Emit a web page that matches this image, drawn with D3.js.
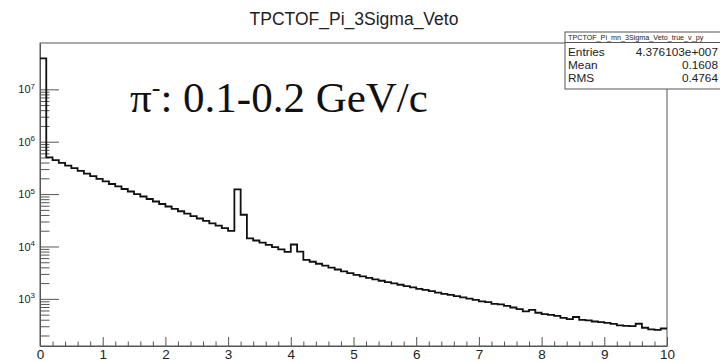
<!DOCTYPE html>
<html>
<head>
<meta charset="utf-8">
<script src="https://cdn.jsdelivr.net/npm/d3@7"></script>
<style>
    body { margin: 0; background: white; }
    svg { display: block; }
</style>
</head>
<body>
<svg id="histo"></svg>
<script>
// Dimensions
const width = 720;
const height = 362;

const margin = {
    top: 43,
    right: 53,
    bottom: 16,
    left: 40
};

// Data: 100 bins of width 0.1 from 0 to 10
const binWidth = 0.1;
const counts = [
    3.9e7, 5.04e5, 4.47e5, 3.96e5, 3.51e5, 3.12e5, 2.77e5, 2.46e5, 2.20e5, 1.96e5,
    1.75e5, 1.56e5, 1.40e5, 1.25e5, 1.12e5, 1.00e5, 9.0e4, 8.06e4, 7.22e4, 6.47e4,
    5.80e4, 5.22e4, 4.70e4, 4.23e4, 3.80e4, 3.42e4, 3.08e4, 2.77e4, 2.51e4, 2.25e4,
    1.98e4, 1.23e5, 4.03e4, 1.43e4, 1.30e4, 1.18e4, 1.07e4, 9.70e3, 8.80e3, 7.92e3,
    1.09e4, 8.0e3, 5.57e3, 5.11e3, 4.68e3, 4.30e3, 3.96e3, 3.64e3, 3.36e3, 3.09e3,
    2.86e3, 2.68e3, 2.51e3, 2.36e3, 2.22e3, 2.08e3, 1.97e3, 1.86e3, 1.75e3, 1.66e3,
    1.55e3, 1.48e3, 1.40e3, 1.32e3, 1.25e3, 1.19e3, 1.13e3, 1.07e3, 1.01e3, 961,
    892, 865, 806, 782, 732, 685, 636, 575, 619, 543,
    511, 493, 472, 432, 410, 451, 399, 387, 370, 359,
    347, 332, 311, 304, 301, 335, 281, 261, 257, 272
];

const xTicks = [0, 1, 2, 3, 4, 5, 6, 7, 8, 9, 10];
const yDecades = [3, 4, 5, 6, 7];

const title = "TPCTOF_Pi_3Sigma_Veto";
const statsName = "TPCTOF_Pi_mn_3Sigma_Veto_true_v_py";
const statsRows = [
    ["Entries", "4.376103e+007"],
    ["Mean", "0.1608"],
    ["RMS", "0.4764"]
];

const axisColor = "#555";
const sans = "Liberation Sans, Arial, sans-serif";

const svg = d3.select("#histo")
    .attr("width", width)
    .attr("height", height);

const x = d3.scaleLinear()
    .domain([0, 10])
    .range([margin.left, width - margin.right]);

const y = d3.scaleLog()
    .domain([126, 7.66e7])
    .range([height - margin.bottom, margin.top]);

// title
svg.append("text")
    .attr("x", 354)
    .attr("y", 25)
    .attr("text-anchor", "middle")
    .attr("font-family", sans)
    .attr("font-size", 17.5)
    .attr("fill", "#222")
    .text(title);

// frame
svg.append("rect")
    .attr("x", x(0))
    .attr("y", margin.top)
    .attr("width", x(10) - x(0))
    .attr("height", y.range()[0] - margin.top)
    .attr("fill", "none")
    .attr("stroke", axisColor)
    .attr("stroke-width", 1);

// x axis
const xMinor = d3.range(0, 10.001, 0.2).filter(v => Math.abs(v - Math.round(v)) > 0.01);

svg.append("g")
    .attr("transform", `translate(0,${y.range()[0]})`)
    .call(d3.axisBottom(x).tickValues(xMinor).tickSizeInner(-4.5).tickSizeOuter(0).tickFormat(""))
    .call(g => g.select(".domain").remove())
    .call(g => g.selectAll("line").attr("stroke", axisColor));

svg.append("g")
    .attr("transform", `translate(0,${y.range()[0]})`)
    .call(d3.axisBottom(x).tickValues(xTicks).tickSizeInner(-9).tickSizeOuter(0).tickPadding(3).tickFormat(d3.format("d")))
    .call(g => g.select(".domain").attr("stroke", axisColor))
    .call(g => g.selectAll("line").attr("stroke", axisColor))
    .call(g => g.selectAll("text")
        .attr("font-family", sans)
        .attr("font-size", 13.5)
        .attr("fill", "#222"));

// y axis
const yMinor = [];
[2, 3, 4, 5, 6, 7].forEach(e => {
    d3.range(2, 10).forEach(m => {
        const v = m * Math.pow(10, e - 1);
        if (v > y.domain()[0] && v < y.domain()[1]) yMinor.push(v);
    });
});

svg.append("g")
    .attr("transform", `translate(${margin.left},0)`)
    .call(d3.axisLeft(y).tickValues(yMinor).tickSizeInner(-9.5).tickSizeOuter(0).tickFormat(""))
    .call(g => g.select(".domain").remove())
    .call(g => g.selectAll("line").attr("stroke", axisColor));

const yAxis = svg.append("g")
    .attr("transform", `translate(${margin.left},0)`)
    .call(d3.axisLeft(y).tickValues(yDecades.map(e => Math.pow(10, e))).tickSizeInner(-19).tickSizeOuter(0).tickPadding(5).tickFormat(""))
    .call(g => g.select(".domain").attr("stroke", axisColor))
    .call(g => g.selectAll("line").attr("stroke", axisColor));

yAxis.selectAll(".tick text")
    .attr("font-family", sans)
    .attr("font-size", 11)
    .attr("fill", "#222")
    .attr("text-anchor", "end")
    .each(function(d) {
        const t = d3.select(this);
        t.append("tspan").text("10");
        t.append("tspan")
            .attr("font-size", 8)
            .attr("dy", "-0.55em")
            .text(Math.round(Math.log10(d)));
    });

// histogram outline
const steps = counts.map((c, i) => ({ lo: i * binWidth, c: c }));
steps.push({ lo: counts.length * binWidth, c: counts[counts.length - 1] });

const line = d3.line()
    .x(d => x(d.lo))
    .y(d => y(d.c))
    .curve(d3.curveStepAfter);

svg.append("path")
    .datum(steps)
    .attr("fill", "none")
    .attr("stroke", "#111")
    .attr("stroke-width", 1.8)
    .attr("d", line);

// annotation
const note = svg.append("text")
    .attr("x", 130)
    .attr("y", 112)
    .attr("font-family", "Liberation Serif, Times New Roman, serif")
    .attr("font-size", 43)
    .attr("fill", "#111");

note.append("tspan").text("\u03c0");
note.append("tspan").attr("font-size", 26).attr("dy", "-0.6em").text("-");
note.append("tspan").attr("dy", "0.36em").text(": 0.1-0.2 GeV/c");

// stats box
const box = svg.append("g").attr("transform", "translate(565,32)");

box.append("rect")
    .attr("x", 0)
    .attr("y", 0)
    .attr("width", 170)
    .attr("height", 57)
    .attr("fill", "white")
    .attr("stroke", axisColor);

box.append("line")
    .attr("x1", 0)
    .attr("x2", 170)
    .attr("y1", 10.5)
    .attr("y2", 10.5)
    .attr("stroke", axisColor);

box.append("text")
    .attr("x", 3)
    .attr("y", 8)
    .attr("font-family", sans)
    .attr("font-size", 7.2)
    .attr("fill", "#222")
    .text(statsName);

statsRows.forEach((r, i) => {
    box.append("text")
        .attr("x", 3)
        .attr("y", 23.5 + i * 13.2)
        .attr("font-family", sans)
        .attr("font-size", 11.8)
        .attr("fill", "#222")
        .text(r[0]);

    box.append("text")
        .attr("x", 153)
        .attr("y", 23.5 + i * 13.2)
        .attr("text-anchor", "end")
        .attr("font-family", sans)
        .attr("font-size", 11.8)
        .attr("fill", "#222")
        .text(r[1]);
});
</script>
</body>
</html>
